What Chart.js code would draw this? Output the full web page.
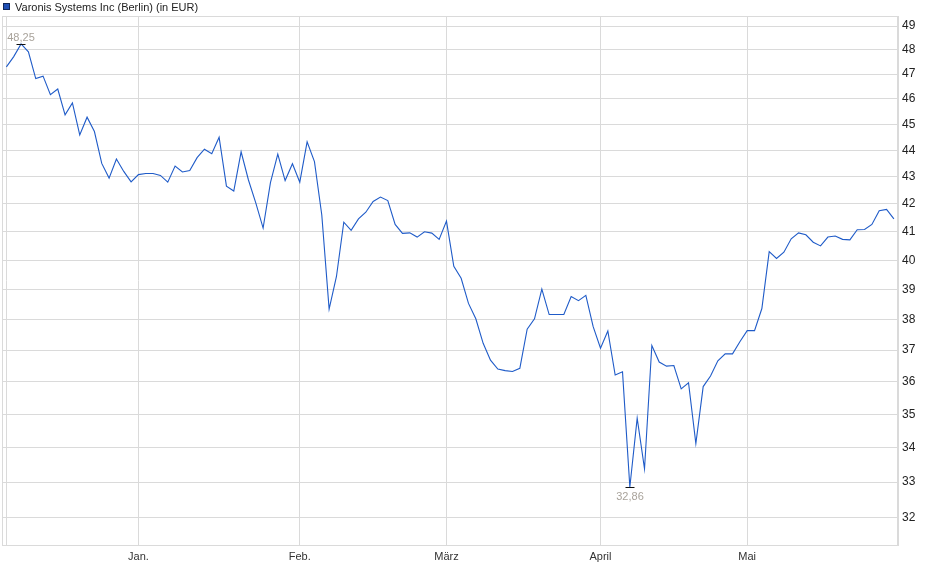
<!DOCTYPE html>
<html lang="de">
<head>
<meta charset="utf-8">
<title>Varonis Systems Inc (Berlin)</title>
<script src="https://cdn.jsdelivr.net/npm/chart.js@4.4.1/dist/chart.umd.min.js"></script>
<style>
  html, body { margin: 0; padding: 0; background: #fff; }
  #wrap { width: 940px; height: 579px; }
</style>
</head>
<body>
<div id="wrap"><canvas id="kursChart" width="940" height="579"></canvas></div>
<script>
// =========================================================================
// 1. DATEN (Schlusskurse je Handelstag, in EUR)
// =========================================================================
const titel = 'Varonis Systems Inc (Berlin) (in EUR)';

const kurse = [
    47.30, 47.72, 48.25, 47.92, 46.82, 46.92, 46.17, 46.40, 45.37, 45.84,
    44.59, 45.28, 44.72, 43.50, 42.95, 43.67, 43.20, 42.81, 43.08, 43.12,
    43.12, 43.05, 42.80, 43.40, 43.18, 43.23, 43.72, 44.04, 43.87, 44.50,
    42.65, 42.47, 43.94, 42.88, 42.04, 41.13, 42.78, 43.85, 42.86, 43.49,
    42.80, 44.32, 43.57, 41.60, 38.34, 39.44, 41.34, 41.05, 41.46, 41.70,
    42.09, 42.25, 42.12, 41.26, 40.94, 40.96, 40.81, 41.00, 40.95, 40.73,
    41.38, 39.79, 39.38, 38.53, 38.02, 37.22, 36.68, 36.40, 36.35, 36.32,
    36.42, 37.68, 38.02, 39.01, 38.16, 38.16, 38.16, 38.76, 38.62, 38.80,
    37.76, 37.06, 37.62, 36.21, 36.31, 32.86, 34.88, 33.38, 37.15, 36.62,
    36.49, 36.51, 35.78, 35.97, 34.12, 35.85, 36.18, 36.66, 36.88, 36.88,
    37.27, 37.63, 37.63, 38.36, 40.30, 40.06, 40.28, 40.75, 40.96, 40.89,
    40.63, 40.50, 40.81, 40.85, 40.73, 40.71, 41.07, 41.08, 41.26, 41.75,
    41.80, 41.46
];

// Monatsanfang (Index des ersten Handelstags)
const monatLabels = ['Jan.', 'Feb.', 'März', 'April', 'Mai'];
const monatIndex = [18, 40, 60, 81, 101];

const yTicks = [32, 33, 34, 35, 36, 37, 38, 39, 40, 41, 42, 43, 44, 45, 46, 47, 48, 49];

// =========================================================================
// 2. HILFSFUNKTIONEN
// =========================================================================
const GRID = '#dadada';
const LINIE = '#1f5bc8';

const formatKurs = (v) => v.toFixed(2).replace('.', ',');

// Rahmen, Legende und Hoch/Tief-Markierung
const dekoPlugin = {
    id: 'deko',
    afterDraw(chart) {
        const ctx = chart.ctx;
        const a = chart.chartArea;
        const xs = chart.scales.x;
        const ys = chart.scales.y;

        ctx.save();

        // Rahmen um den Plotbereich
        ctx.strokeStyle = GRID;
        ctx.lineWidth = 1;
        ctx.strokeRect(Math.round(a.left) + 0.5, Math.round(a.top) + 0.5,
            Math.round(a.right - a.left) - 1, Math.round(a.bottom - a.top));

        // Legende oben links
        ctx.fillStyle = '#1f4fb5';
        ctx.fillRect(3, 3, 7, 7);
        ctx.strokeStyle = '#10275a';
        ctx.strokeRect(3.5, 3.5, 6, 6);
        ctx.fillStyle = '#222';
        ctx.font = '11px "Liberation Sans", Arial, sans-serif';
        ctx.textAlign = 'left';
        ctx.textBaseline = 'alphabetic';
        ctx.fillText(titel, 15, 11);

        // Hoch und Tief
        let iMax = 0, iMin = 0;
        kurse.forEach((v, i) => {
            if (v > kurse[iMax]) iMax = i;
            if (v < kurse[iMin]) iMin = i;
        });

        const marke = (i, oben) => {
            const px = Math.round(xs.getPixelForValue(i));
            const py = Math.round(ys.getPixelForValue(kurse[i]));
            ctx.strokeStyle = '#111';
            ctx.beginPath();
            ctx.moveTo(px - 4.5, py + 0.5);
            ctx.lineTo(px + 4.5, py + 0.5);
            ctx.stroke();
            ctx.fillStyle = '#a9a39b';
            ctx.font = '11px "Liberation Sans", Arial, sans-serif';
            ctx.textAlign = 'center';
            if (oben) {
                ctx.textBaseline = 'bottom';
                ctx.fillText(formatKurs(kurse[i]), px, py - 1);
            } else {
                ctx.textBaseline = 'top';
                ctx.fillText(formatKurs(kurse[i]), px, py + 4);
            }
        };
        marke(iMax, true);
        marke(iMin, false);

        ctx.restore();
    }
};

// =========================================================================
// 3. CHART
// =========================================================================
Chart.defaults.font.family = '"Liberation Sans", Arial, sans-serif';
Chart.defaults.font.size = 11;
Chart.defaults.color = '#222';

const ctx = document.getElementById('kursChart').getContext('2d');

new Chart(ctx, {
    type: 'line',
    data: {
        datasets: [{
            label: titel,
            data: kurse.map((v, i) => ({ x: i, y: v })),
            borderColor: LINIE,
            borderWidth: 1.1,
            pointRadius: 0,
            tension: 0,
            fill: false
        }]
    },
    options: {
        responsive: false,
        animation: false,
        devicePixelRatio: 1,
        layout: { padding: { left: 2, top: 16, right: 0, bottom: 0 } },
        plugins: {
            legend: { display: false },
            tooltip: { enabled: false }
        },
        scales: {
            x: {
                type: 'linear',
                min: -0.6,
                max: 121.56,
                afterBuildTicks: (scale) => {
                    scale.ticks = [{ value: 0 }].concat(monatIndex.map(v => ({ value: v })));
                },
                afterFit: (scale) => { scale.height = 34; },
                ticks: {
                    autoSkip: false,
                    maxRotation: 0,
                    padding: 5,
                    color: '#333',
                    callback: (value) => {
                        const k = monatIndex.indexOf(value);
                        return k >= 0 ? monatLabels[k] : '';
                    }
                },
                grid: { color: GRID, drawTicks: false },
                border: { color: GRID }
            },
            y: {
                type: 'logarithmic',
                position: 'right',
                min: 31.25,
                max: 49.43,
                afterBuildTicks: (scale) => {
                    scale.ticks = yTicks.map(v => ({ value: v }));
                },
                afterFit: (scale) => { scale.width = 42; },
                ticks: {
                    padding: 4,
                    color: '#222',
                    font: { size: 12 },
                    callback: (value) => String(value)
                },
                grid: { color: GRID, drawTicks: false },
                border: { color: GRID }
            }
        }
    },
    plugins: [dekoPlugin]
});
</script>
</body>
</html>
